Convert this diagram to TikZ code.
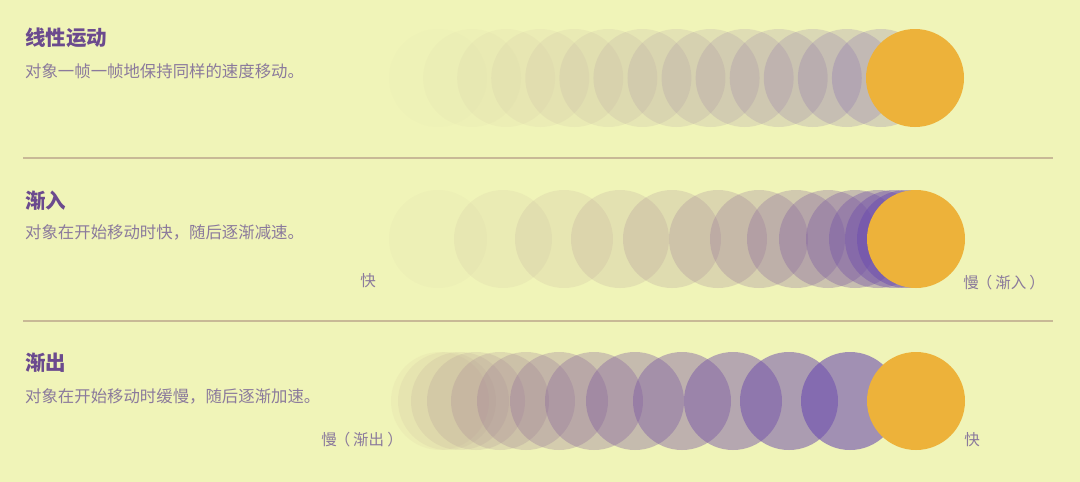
\documentclass[tikz,border=0pt]{standalone}
\usepackage{fontspec}
\setmainfont{Noto Sans CJK SC}
\definecolor{bg}{RGB}{240,244,184}
\definecolor{ghost}{RGB}{104,72,176}
\definecolor{ball}{RGB}{237,178,58}
\definecolor{ttl}{RGB}{107,74,142}
\definecolor{subc}{RGB}{139,122,156}
\definecolor{sepc}{RGB}{200,185,150}
\begin{document}
\begin{tikzpicture}[x=1pt,y=-1pt,
  ttlstyle/.style={anchor=west,inner sep=0pt,text=ttl,font=\fontsize{20.5pt}{23pt}\selectfont\bfseries},
  substyle/.style={anchor=west,inner sep=0pt,text=subc,font=\fontsize{16.4pt}{19pt}\selectfont},
  lblstyle/.style={anchor=center,inner sep=0pt,text=subc,font=\fontsize{15.5pt}{18pt}\selectfont},
  seprule/.style={draw=sepc,line width=2pt},
  ballstyle/.style={fill=ball}]
\fill[bg] (0,0) rectangle (1080,482);
% separators
\coordinate (s1a) at (23,158); \coordinate (s1b) at (1053,158);
\coordinate (s2a) at (23,321); \coordinate (s2b) at (1053,321);
\draw[seprule] (s1a) -- (s1b);
\draw[seprule] (s2a) -- (s2b);
% row 1: linear
\foreach \i in {0,...,13}{
  \pgfmathsetmacro\cx{438+34.07*\i}
  \pgfmathsetmacro\op{0.014*(\i+1)}
  \pgfmathtruncatemacro\mx{55+45*\i/13}
  \fill[ghost!\mx!ball,fill opacity=\op] (\cx,78) circle (49pt);
}
\fill[ballstyle] (915,78) circle (49pt);
% row 2: ease in (decelerate)
\foreach \cx [count=\i from 0] in {438,503,564,620,672,718,759,796,828,855,878,894,906}{
  \pgfmathsetmacro\op{0.03+0.035*\i}
  \pgfmathtruncatemacro\mx{55+45*\i/12}
  \fill[ghost!\mx!ball,fill opacity=\op] (\cx,239) circle (49pt);
}
\fill[ballstyle] (916,239) circle (49pt);
% row 3: ease out (accelerate)
\foreach \cx [count=\i from 0] in {440,447,460,476,500,526,559,594,635,682,733,789,850}{
  \pgfmathsetmacro\op{0.05+0.53*(\i/12)^1.3}
  \pgfmathtruncatemacro\mx{55+45*\i/12}
  \fill[ghost!\mx!ball,fill opacity=\op] (\cx,401) circle (49pt);
}
\fill[ballstyle] (916,401) circle (49pt);
% texts
\node[ttlstyle] (t1) at (25,37.5) {线性运动};
\node[substyle] (d1) at (25,71) {对象一帧一帧地保持同样的速度移动。};
\node[ttlstyle] (t2) at (25,201) {渐入};
\node[substyle] (d2) at (25,232) {对象在开始移动时快，随后逐渐减速。};
\node[lblstyle] (f2) at (368,281) {快};
\node[lblstyle] (s2) at (1003,283) {慢\kern-2pt（\kern3pt渐入\kern3pt）\kern-2pt};
\node[ttlstyle] (t3) at (25,363) {渐出};
\node[substyle] (d3) at (25,396) {对象在开始移动时缓慢，随后逐渐加速。};
\node[lblstyle] (s3) at (361,440) {慢\kern-2pt（\kern3pt渐出\kern3pt）\kern-2pt};
\node[lblstyle] (f3) at (972,440) {快};
\end{tikzpicture}
\end{document}
